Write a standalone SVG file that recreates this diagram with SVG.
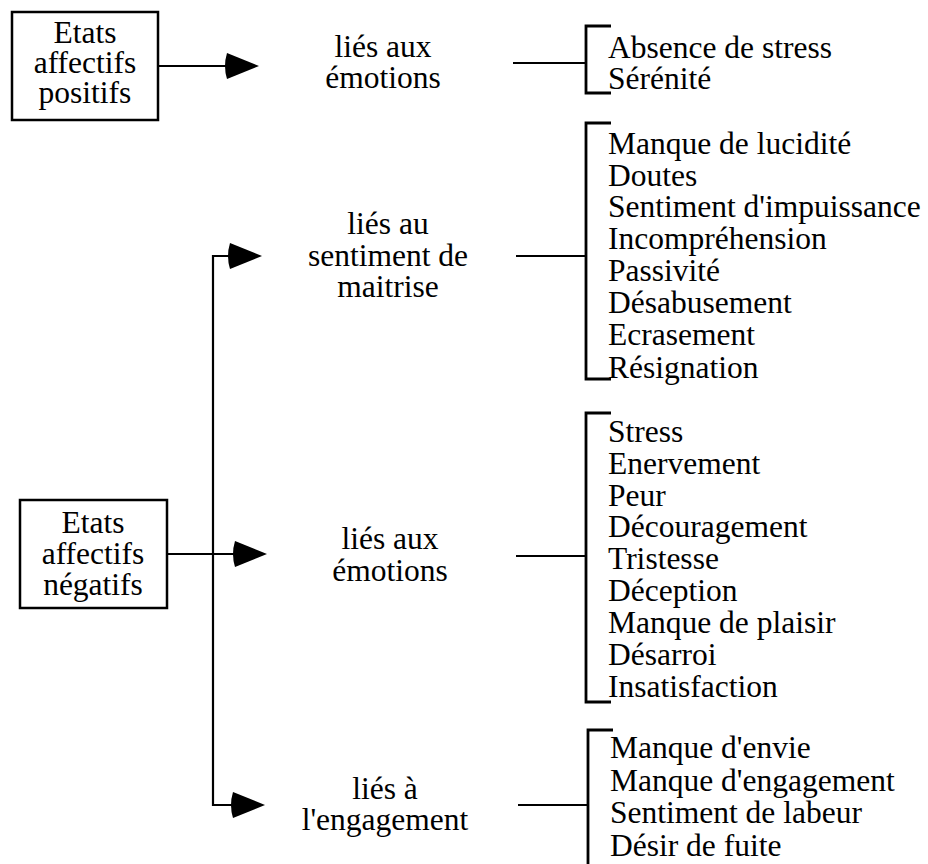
<svg xmlns="http://www.w3.org/2000/svg" xmlns:xlink="http://www.w3.org/1999/xlink" width="928" height="864" viewBox="0 0 928 864">
<style>
  text { font-family: "Liberation Serif", "Times New Roman", serif; font-size: 31.5px; fill: #000; }
  .c { text-anchor: middle; }
  .box { fill: #fff; stroke: #000; stroke-width: 2.5; }
  .ln { fill: none; stroke: #000; stroke-width: 2.2; }
  .br { fill: none; stroke: #000; stroke-width: 2.8; }
</style>
<defs>
  <path id="ah" d="M0,0 L-32,-13 Q-36,0 -32,13 Z" fill="#000"/>
</defs>
<rect width="928" height="864" fill="#fff"/>

<g id="connectors">
  <line class="ln" x1="158" y1="66" x2="230" y2="66"/>
  <use xlink:href="#ah" x="259" y="66"/>
  <polyline class="ln" points="234,256 213,256 213,805 236,805"/>
  <line class="ln" x1="167" y1="554" x2="236" y2="554"/>
  <use xlink:href="#ah" x="262" y="256"/>
  <use xlink:href="#ah" x="267" y="554"/>
  <use xlink:href="#ah" x="265" y="805"/>
  <line class="ln" x1="513" y1="63" x2="586" y2="63"/>
  <line class="ln" x1="516" y1="256" x2="586" y2="256"/>
  <line class="ln" x1="516" y1="556" x2="586" y2="556"/>
  <line class="ln" x1="518" y1="805" x2="588" y2="805"/>
</g>

<g id="positifs">
  <rect class="box" x="12" y="12" width="146" height="108"/>
  <text class="c" x="85" y="43">Etats</text>
  <text class="c" x="85" y="73">affectifs</text>
  <text class="c" x="85" y="103">positifs</text>
</g>

<g id="negatifs">
  <rect class="box" x="20" y="500" width="147" height="108"/>
  <text class="c" x="93" y="533">Etats</text>
  <text class="c" x="93" y="564">affectifs</text>
  <text class="c" x="93" y="595">négatifs</text>
</g>

<g id="emotions-pos">
  <text class="c" x="383" y="57">liés aux</text>
  <text class="c" x="383" y="88">émotions</text>
</g>

<g id="maitrise">
  <text class="c" x="388" y="234">liés au</text>
  <text class="c" x="388" y="266">sentiment de</text>
  <text class="c" x="388" y="297">maitrise</text>
</g>

<g id="emotions-neg">
  <text class="c" x="390" y="549">liés aux</text>
  <text class="c" x="390" y="581">émotions</text>
</g>

<g id="engagement">
  <text class="c" x="385" y="799">liés à</text>
  <text class="c" x="385" y="830">l'engagement</text>
</g>

<g id="list-pos">
  <polyline class="br" points="611,26 586,26 586,93 611,93"/>
  <text x="608" y="58">Absence de stress</text>
  <text x="608" y="89">Sérénité</text>
</g>

<g id="list-maitrise">
  <polyline class="br" points="611,123 586,123 586,379 611,379"/>
  <text x="608" y="154">Manque de lucidité</text>
  <text x="608" y="186">Doutes</text>
  <text x="608" y="217">Sentiment d'impuissance</text>
  <text x="608" y="249">Incompréhension</text>
  <text x="608" y="281">Passivité</text>
  <text x="608" y="313">Désabusement</text>
  <text x="608" y="345">Ecrasement</text>
  <text x="608" y="378">Résignation</text>
</g>

<g id="list-emotions">
  <polyline class="br" points="611,413 586,413 586,702 611,702"/>
  <text x="608" y="442">Stress</text>
  <text x="608" y="474">Enervement</text>
  <text x="608" y="506">Peur</text>
  <text x="608" y="537">Découragement</text>
  <text x="608" y="569">Tristesse</text>
  <text x="608" y="601">Déception</text>
  <text x="608" y="633">Manque de plaisir</text>
  <text x="608" y="665">Désarroi</text>
  <text x="608" y="697">Insatisfaction</text>
</g>

<g id="list-engagement">
  <polyline class="br" points="613,730 588,730 588,866"/>
  <text x="610" y="758">Manque d'envie</text>
  <text x="610" y="791">Manque d'engagement</text>
  <text x="610" y="823">Sentiment de labeur</text>
  <text x="610" y="856">Désir de fuite</text>
</g>
</svg>
